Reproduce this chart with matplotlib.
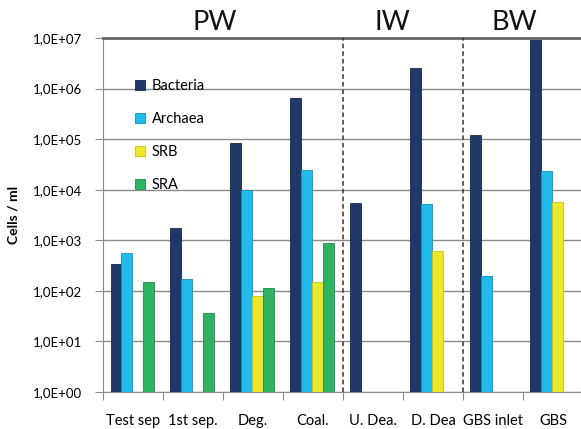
import matplotlib.pyplot as plt
import numpy as np
from matplotlib.ticker import FuncFormatter, FixedLocator

plt.rcParams["font.family"] = ["Lato", "DejaVu Sans"]

categories = ["Test sep", "1st sep.", "Deg.", "Coal.", "U. Dea.", "D. Dea", "GBS inlet", "GBS"]
bacteria = [340, 1750, 83000, 650000, 5500, 2.5e6, 120000, 9.0e6]
archaea = [560, 170, 9800, 25000, np.nan, 5200, 195, 23000]
srb = [np.nan, np.nan, 80, 150, np.nan, 620, np.nan, 5700]
sra = [150, 36, 115, 880, np.nan, np.nan, np.nan, np.nan]

series = [
    ("Bacteria", bacteria, "#1f3868", "#15264a"),
    ("Archaea", archaea, "#22bbea", "#1590b8"),
    ("SRB", srb, "#ece72a", "#c8c21a"),
    ("SRA", sra, "#2fb363", "#1f8a48"),
]
groups = [("PW", 1.37), ("IW", 4.33), ("BW", 6.35)]
separators = [3.5, 5.5]

fig = plt.figure(figsize=(5.81, 4.29), dpi=100)
ax = fig.add_axes([0.1773, 0.0862, 0.826, 0.8252])

x = np.arange(len(categories))
offsets = [-0.285, -0.105, 0.075, 0.255]
width = 0.18
for (name, vals, color, edge), off in zip(series, offsets):
    ax.bar(x + off, vals, width=width, bottom=1, color=color, edgecolor=edge,
           linewidth=0.6, label=name, zorder=3)

ax.set_yscale("log")
ax.set_ylim(1, 1e7)
ax.set_xlim(-0.5, len(categories) - 0.5)
ax.yaxis.set_major_locator(FixedLocator([10.0 ** k for k in range(8)]))
ax.yaxis.set_minor_locator(FixedLocator([]))
ax.yaxis.set_major_formatter(FuncFormatter(lambda v, p: "1,0E+%02d" % round(np.log10(v))))
ax.grid(axis="y", color="#8c8c8c", linewidth=1.0, zorder=0)

ax.set_xticks(np.arange(len(categories) + 1) - 0.5)
ax.set_xticklabels([])
ax.set_xticks(x, minor=True)
ax.set_xticklabels(categories, minor=True, fontsize=10.5)
ax.tick_params(axis="x", which="minor", length=0, pad=16)
ax.tick_params(axis="x", which="major", length=6, color="#8c8c8c")
ax.tick_params(axis="y", length=6, color="#8c8c8c", labelsize=9.5, pad=9)

for s in ["left", "bottom"]:
    ax.spines[s].set_color("#8c8c8c")
ax.spines["right"].set_visible(False)
ax.spines["top"].set_color("#666666")
ax.spines["top"].set_linewidth(2)

for sx in separators:
    ax.axvline(sx, color="#333333", linestyle=(0, (3, 2)), linewidth=1.1, zorder=4)

for label, gx in groups:
    ax.text(gx, 1.008, label, transform=ax.get_xaxis_transform(), ha="center",
            va="bottom", fontsize=19.5, color="#111111")

ax.set_ylabel("Cells / ml", fontsize=10, fontweight="bold", labelpad=10)

ax.legend(loc="upper left", bbox_to_anchor=(0.055, 0.9), frameon=False, fontsize=10.5,
          handlelength=0.7, handleheight=0.7, handletextpad=0.45, labelspacing=1.3,
          borderaxespad=0)

fig.savefig("out.png", dpi=100)
